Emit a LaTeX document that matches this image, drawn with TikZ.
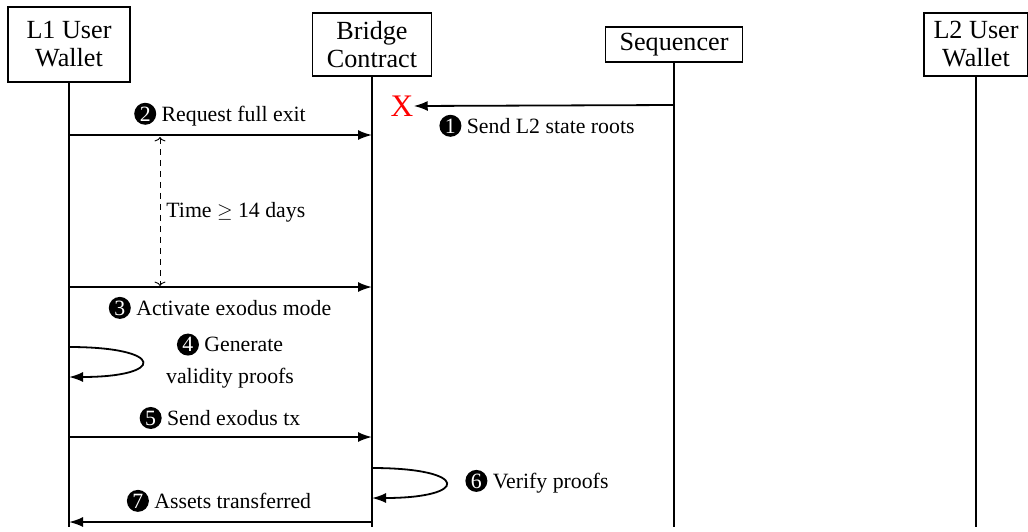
\documentclass[tikz,border=0pt]{standalone}
\usepackage{fontspec}
\setmainfont{Liberation Serif}[Scale=1.09]
\usetikzlibrary{arrows.meta}
% black disc with a white step number
\newcommand\numc[1]{\tikz[baseline=(n.base)]\node[circle,fill=black,text=white,inner sep=0pt,minimum size=11pt,font=\normalsize](n){#1};}

\begin{document}
\begin{tikzpicture}[x=0.5pt,y=-0.5pt,
  actor/.style={draw,line width=0.9pt,align=center,font=\large,inner sep=0pt},
  life/.style={line width=0.9pt},
  msg/.style={line width=0.9pt,-{Latex[length=7pt,width=5pt]}},
  lbl/.style={font=\normalsize,inner sep=0pt},
  gapline/.style={line width=0.45pt,dash pattern=on 3pt off 2.5pt,
    {To[length=2.2pt,width=5.5pt]}-{To[length=2.2pt,width=5.5pt]}},
]
\useasboundingbox (0,0) rectangle (1028,531);

% participants
\node[actor,minimum width=61pt,minimum height=37.5pt] (l1) at (69,44.5) {L1 User\\Wallet};
\node[actor,minimum width=59.5pt,minimum height=31.5pt] (bc) at (372,44.5) {Bridge\\Contract};
\node[actor,minimum width=68.5pt,minimum height=17.5pt] (sq) at (674,44.5) {Sequencer};
\node[actor,minimum width=52pt,minimum height=31.5pt] (l2) at (976,44.5) {L2 User\\Wallet};

% lifelines
\coordinate (l1e) at (69,527);
\coordinate (bce) at (372,527);
\coordinate (sqe) at (674,527);
\coordinate (l2e) at (976,527);
\draw[life] (l1) -- (l1e);
\draw[life] (bc) -- (bce);
\draw[life] (sq) -- (sqe);
\draw[life] (l2) -- (l2e);

% message heights
\coordinate (y1) at (0,105);
\coordinate (y2) at (0,135);
\coordinate (y3) at (0,287);
\coordinate (y4a) at (0,347);
\coordinate (y4b) at (0,377);
\coordinate (y5) at (0,437);
\coordinate (y6a) at (0,468);
\coordinate (y6b) at (0,498);
\coordinate (y7) at (0,522);

% 1: state roots never reach the bridge
\node[text=red,font=\Large,inner sep=0pt] (xm) at (402,106) {X};
\draw[msg] (sq |- y1) -- (xm.east);
\node[lbl,anchor=base] (t1) at (537,133) {\numc{1} Send L2 state roots};

% 2: request full exit
\draw[msg] (l1 |- y2) -- (bc |- y2);
\node[lbl,anchor=base] (t2) at (220,121) {\numc{2} Request full exit};

% waiting period
\coordinate (d1) at (160,137);
\coordinate (d2) at (160,286);
\draw[gapline] (d1) -- (d2);
\node[lbl,anchor=base west] (tt) at (166,217) {Time $\geq$ 14 days};

% 3: activate exodus mode
\draw[msg] (l1 |- y3) -- (bc |- y3);
\node[lbl,anchor=base] (t3) at (220,315) {\numc{3} Activate exodus mode};

% 4: generate validity proofs
\draw[msg] (l1 |- y4a) .. controls (166,347) and (166,377) .. (l1 |- y4b);
\node[lbl,align=center] (t4) at (230,361) {\numc{4} Generate\\[4pt]validity proofs};

% 5: send exodus tx
\draw[msg] (l1 |- y5) -- (bc |- y5);
\node[lbl,anchor=base] (t5) at (220,425) {\numc{5} Send exodus tx};

% 6: verify proofs
\draw[msg] (bc |- y6a) .. controls (470,468) and (470,498) .. (bc |- y6b);
\node[lbl,anchor=base west] (t6) at (465,488) {\numc{6} Verify proofs};

% 7: assets transferred
\draw[msg] (bc |- y7) -- (l1 |- y7);
\node[lbl,anchor=base] (t7) at (219,508) {\numc{7} Assets transferred};
\end{tikzpicture}
\end{document}
